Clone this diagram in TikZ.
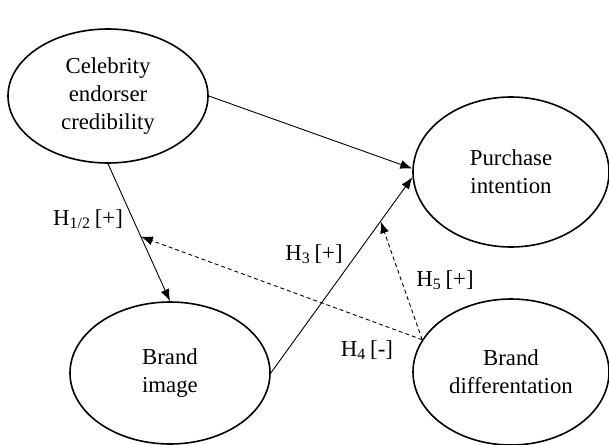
\documentclass[tikz,border=0pt]{standalone}
\usepackage{fontspec}
\setmainfont{Liberation Serif}
\usetikzlibrary{shapes.geometric,arrows.meta}
\begin{document}
\begin{tikzpicture}[x=0.5pt,y=-0.5pt,line join=round,>={Latex[length=6pt,width=4.5pt]},
	konstrukt/.style={draw,ellipse,line width=0.8pt,inner sep=0pt,align=center,font=\fontsize{11.4}{14}\selectfont},
	pfeil/.style={->,line width=0.45pt},
	moderator/.style={->,line width=0.45pt,dash pattern=on 2pt off 1.5pt},
	hyp/.style={font=\fontsize{11.4}{14}\selectfont}]
	\useasboundingbox (0,0) rectangle (609,444);
	% Konstrukte
	\node [konstrukt,minimum width=100pt,minimum height=67pt] (celeb) at (108,96) {Celebrity\\endorser\\credibility};
	\node [konstrukt,minimum width=98pt,minimum height=75pt] (purchase) at (511,172) {Purchase\\intention};
	\node [konstrukt,minimum width=100pt,minimum height=71pt] (image) at (170,373) {Brand\\image};
	\node [konstrukt,minimum width=98pt,minimum height=73pt] (diff) at (511,372) {Brand\\differentation};
	% Pfade
	\draw [pfeil] (celeb.east) -- (purchase.178);
	\draw [pfeil] (celeb.south) -- coordinate[pos=0.53] (m1) (image.north);
	\draw [pfeil] (image.east) -- coordinate[pos=0.775] (m2) (purchase.183);
	\draw [moderator] (diff.160) -- (m1);
	\draw [moderator] (diff.160) -- (m2);
	% Hypothesen
	\node [hyp] (h12) at (88,219) {H\textsubscript{1/2}\,[+]};
	\node [hyp] (h3) at (314,254) {H\textsubscript{3}\,[+]};
	\node [hyp] (h4) at (367,350) {H\textsubscript{4}\,[-]};
	\node [hyp] (h5) at (445,280) {H\textsubscript{5}\,[+]};
\end{tikzpicture}
\end{document}
